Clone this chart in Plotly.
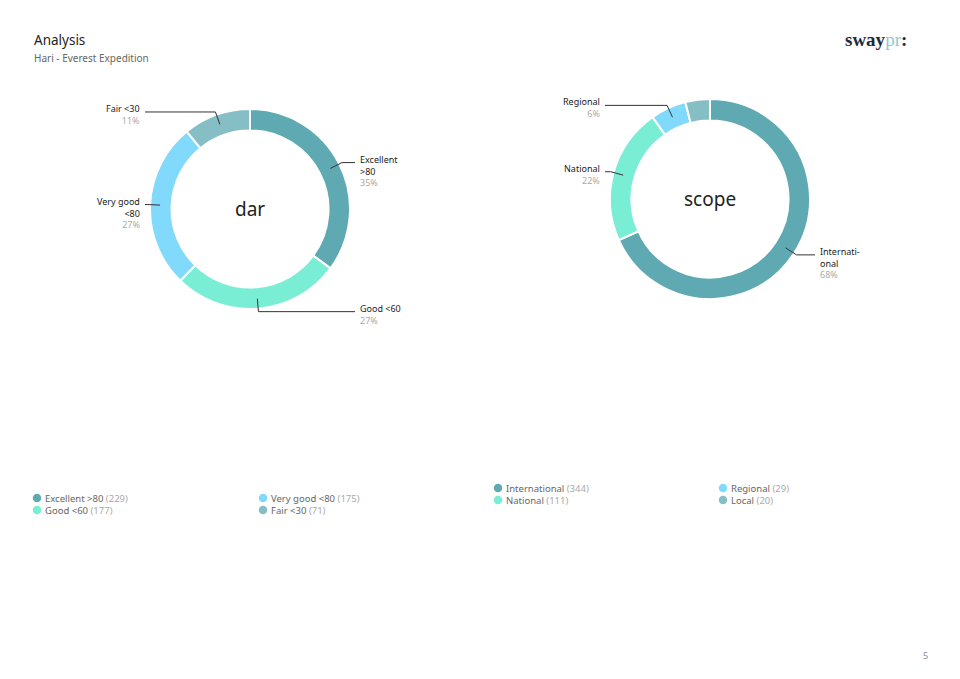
import numpy as np
import plotly.graph_objects as go

W, H = 960, 679
OFF = 8  # page body margin, so axis units match page pixels

# dar breakdown (clockwise from 12 o'clock)
dar_labels = ['Excellent >80', 'Good <60', 'Very good <80', 'Fair <30']
dar_counts = [229, 177, 175, 71]
dar_text = ['Excellent<br>>80', 'Good <60', 'Very good<br><80', 'Fair <30']

# scope breakdown
scope_labels = ['International', 'National', 'Regional', 'Local']
scope_counts = [344, 111, 29, 20]
scope_text = ['Internati-<br>onal', 'National', 'Regional', 'Local']

colors = ['#5fa9b3', '#7aedd5', '#81d9fb', '#85bec4']

R = 100       # outer radius, px
HOLE = 0.785
MIN_PCT = 5   # slices smaller than this get no outside label

fig = go.Figure()
shapes = []
annos = []
leg_x, leg_y, leg_c = [], [], []


def donut(labels, counts, wrapped, centre, cx, cy, leg_cols, leg_rows):
    total = sum(counts)
    fig.add_trace(go.Pie(
        labels=labels, values=counts, hole=HOLE, sort=False,
        direction='clockwise', rotation=0, textinfo='none',
        marker=dict(colors=colors, line=dict(color='white', width=2)),
        domain=dict(x=[(cx - R - OFF) / W, (cx + R - OFF) / W],
                    y=[1 - (cy + R - OFF) / H, 1 - (cy - R - OFF) / H]),
        showlegend=False, hoverinfo='label+value+percent'))

    annos.append(dict(x=cx, y=cy, text=centre, font=dict(size=19, color='#222')))

    cum = 0
    for lab, v, wtxt in zip(labels, counts, wrapped):
        pct = round(100 * v / total)
        th = 2 * np.pi * (cum + v / 2) / total
        cum += v
        if pct < MIN_PCT:
            continue
        s, c = np.sin(th), np.cos(th)
        x0, y0 = cx + 90 * s, cy - 90 * c
        x1, y1 = cx + 103 * s, cy - 103 * c
        side = 1 if s > 0 else -1
        x2 = cx + side * 105
        shapes.append(dict(type='path', xref='x', yref='y',
                           path=f'M{x0},{y0} L{x1},{y1} L{x2},{y1}',
                           line=dict(color='#333', width=1)))
        xa = 'left' if side > 0 else 'right'
        annos.append(dict(x=cx + side * 108, y=y1 - 12, xanchor=xa, yanchor='top', align=xa,
                          font=dict(size=9, color='#222'),
                          text=f"{wtxt}<br><span style='color:#aaa'>{pct}%</span>"))

    # legend, filled column by column
    for i, (lab, v) in enumerate(zip(labels, counts)):
        lx = leg_cols[i // 2]
        ly = leg_rows[i % 2]
        leg_x.append(lx)
        leg_y.append(ly)
        leg_c.append(colors[i])
        annos.append(dict(x=lx + 6, y=ly, xanchor='left',
                          font=dict(size=9.5, color='#666'),
                          text=f"{lab}<span style='color:#aaa'> ({v})</span>"))


donut(dar_labels, dar_counts, dar_text, 'dar', 250, 209, [37, 263], [498, 510])
donut(scope_labels, scope_counts, scope_text, 'scope', 710, 199, [498, 723], [488, 500])

fig.add_trace(go.Scatter(x=leg_x, y=leg_y, mode='markers', hoverinfo='skip', showlegend=False,
                         marker=dict(size=8.5, color=leg_c)))

# header, logo, page number
annos += [
    dict(x=32, y=40, text='Analysis', xanchor='left', font=dict(size=13.5, color='#222')),
    dict(x=32, y=58, text='Hari - Everest Expedition', xanchor='left', font=dict(size=10, color='#666')),
    dict(x=909, y=39, xanchor='right',
         text="<b>sway</b><span style='color:#8ccbd3'>pr</span><b>:</b>",
         font=dict(size=19, color='#1e2b3c', family='Liberation Serif')),
    dict(x=925, y=655, text='5', font=dict(size=9, color='#888')),
]
for a in annos:
    a.setdefault('xref', 'x')
    a.setdefault('yref', 'y')
    a.setdefault('showarrow', False)
    a.setdefault('yanchor', 'middle')

fig.update_layout(
    width=W, height=H, margin=dict(l=0, r=0, t=0, b=0),
    paper_bgcolor='white', plot_bgcolor='white',
    font=dict(family='Noto Sans'),
    xaxis=dict(range=[OFF, W + OFF], visible=False, fixedrange=True, domain=[0, 1]),
    yaxis=dict(range=[H + OFF, OFF], visible=False, fixedrange=True, domain=[0, 1]),
    shapes=shapes, annotations=annos, showlegend=False,
)

fig.write_html("out.html")
